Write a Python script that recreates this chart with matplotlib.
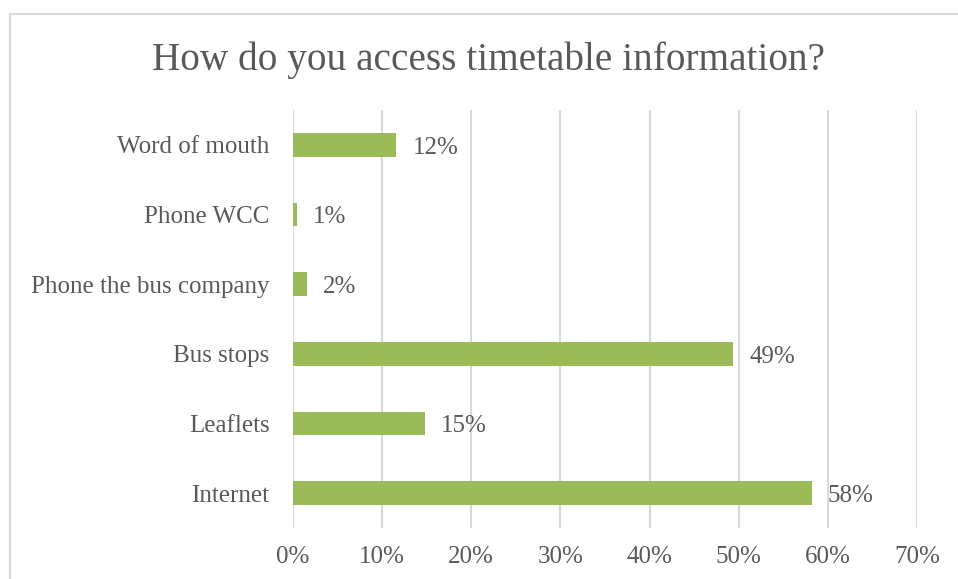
import matplotlib.pyplot as plt
from matplotlib.patches import Rectangle

categories = ['Internet', 'Leaflets', 'Bus stops', 'Phone the bus company', 'Phone WCC', 'Word of mouth']
values = [58.2, 14.8, 49.4, 1.6, 0.45, 11.6]
labels = ['58%', '15%', '49%', '2%', '1%', '12%']
xticks = [0, 10, 20, 30, 40, 50, 60, 70]

green = '#9BBB59'
txt = '#595959'
grid = '#D9D9D9'

plt.rcParams['font.family'] = ['Liberation Serif', 'DejaVu Serif']

fig = plt.figure(figsize=(9.58, 5.79), dpi=100)
ax = fig.add_axes([293/958, 1 - 528/579, (917 - 293)/958, (528 - 110)/579])

# outer chart frame (cut off at right and bottom in the original)
fig.patches.append(Rectangle((10/958, -0.1), 1.2, 1 - 14/579 + 0.1, transform=fig.transFigure,
                             fill=False, edgecolor=grid, linewidth=1.5))

y = range(len(categories))
ax.barh(y, values, height=0.34, color=green, zorder=3)
for yi, v, lab in zip(y, values, labels):
    ax.text(v + 1.8, yi - 0.04, lab, va='center', ha='left', fontsize=18, color=txt)

ax.set_xlim(0, 70)
ax.set_ylim(-0.5, 5.5)
ax.set_xticks(xticks)
ax.set_xticklabels([f'{t}%' for t in xticks], fontsize=18, color=txt)
ax.set_yticks(list(y))
ax.set_yticklabels(categories, fontsize=18, color=txt)
ax.tick_params(axis='x', length=0, pad=13)
ax.tick_params(axis='y', length=0, pad=17)
ax.xaxis.grid(True, color=grid, linewidth=1.5, zorder=0)
for s in ax.spines.values():
    s.set_visible(False)

fig.text(488/958, 1 - 60/579, 'How do you access timetable information?', ha='center', va='center',
         fontsize=28.3, color=txt)

fig.savefig('out.png', dpi=100)
